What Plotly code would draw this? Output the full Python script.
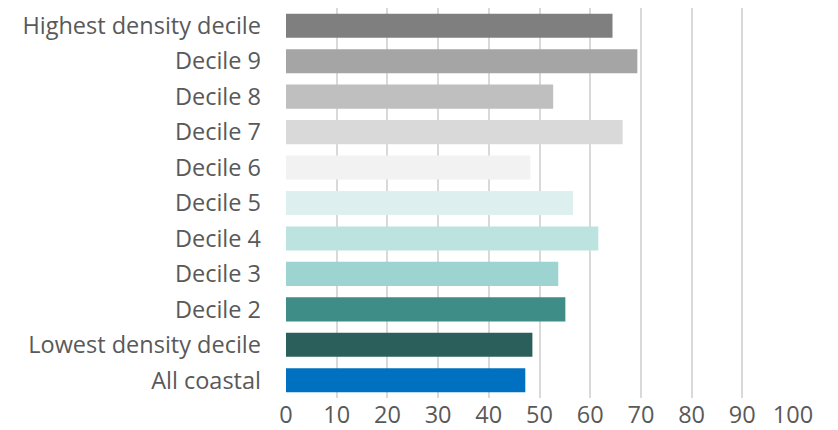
import plotly.graph_objects as go

categories = ["Highest density decile", "Decile 9", "Decile 8", "Decile 7", "Decile 6",
              "Decile 5", "Decile 4", "Decile 3", "Decile 2", "Lowest density decile", "All coastal"]
values = [64.4, 69.3, 52.7, 66.4, 48.2, 56.6, 61.6, 53.7, 55.1, 48.6, 47.2]
colors = ["#7f7f7f", "#a5a5a5", "#bfbfbf", "#d9d9d9", "#f2f2f2",
          "#ddf0ef", "#bce3e0", "#9dd4d2", "#3e8e87", "#2a5f5b", "#0070c0"]
x_ticks = [0, 10, 20, 30, 40, 50, 60, 70, 80, 90, 100]

fig = go.Figure(go.Bar(
    x=values, y=categories, orientation="h",
    marker=dict(color=colors, line=dict(width=0)),
))

FONT = "Open Sans, Lato, sans-serif"
FS = 23.5
fig.update_layout(
    width=830, height=422,
    margin=dict(l=278, r=45, t=0, b=32),
    paper_bgcolor="white", plot_bgcolor="white",
    bargap=0.32, showlegend=False,
    font=dict(family=FONT, size=FS, color="#595959"),
)
fig.update_xaxes(range=[0, 100], tickvals=x_ticks, showgrid=True, gridcolor="#d9d9d9",
                 gridwidth=1.5, zeroline=False, showline=False, ticks="", automargin=False,
                 tickfont=dict(family=FONT, size=FS, color="#595959"))
fig.update_yaxes(categoryorder="array", categoryarray=categories[::-1], autorange=True,
                 showgrid=False, zeroline=False, showline=False, ticks="", automargin=False,
                 ticklabelstandoff=24, tickfont=dict(family=FONT, size=FS, color="#595959"))

fig.write_html("out.html")
